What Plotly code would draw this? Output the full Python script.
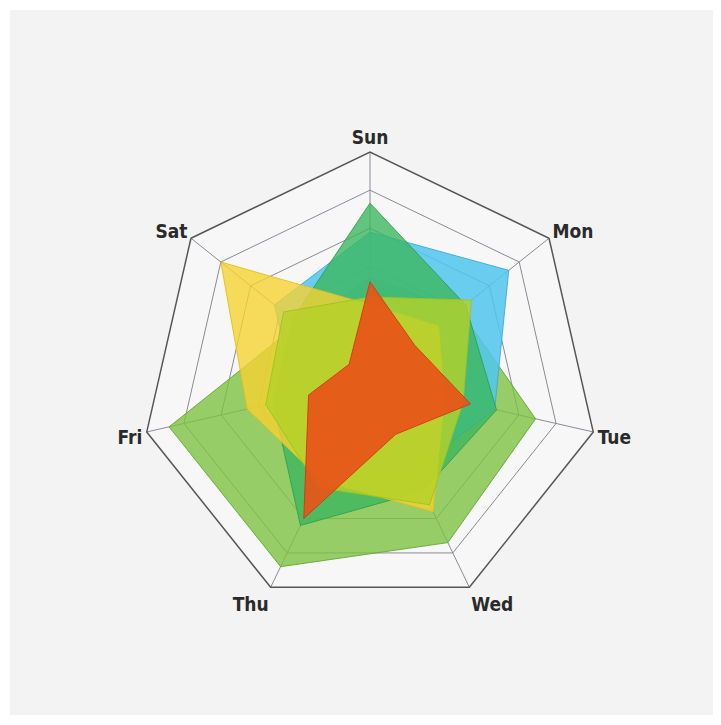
import plotly.graph_objects as go

days = ["Sun", "Mon", "Tue", "Wed", "Thu", "Fri", "Sat"]

light_green = [2.7, 3.0, 4.45, 4.7, 5.4, 5.4, 2.4]
cyan = [3.9, 4.65, 3.35, 2.6, 2.9, 2.0, 3.2]
mid_green = [4.66, 3.2, 3.4, 3.2, 4.2, 2.6, 2.6]
yellow = [2.0, 2.3, 2.0, 3.8, 2.9, 3.3, 5.0]
lime = [2.2, 3.4, 2.5, 3.6, 3.1, 2.8, 2.9]
red = [2.6, 1.5, 2.7, 1.55, 4.0, 1.65, 0.7]

series = [
    (light_green, "rgba(125,194,66,0.80)", "rgba(95,170,50,0.9)"),
    (cyan, "rgba(80,198,238,0.85)", "rgba(60,170,220,0.9)"),
    (mid_green, "rgba(60,182,95,0.80)", "rgba(50,160,80,0.9)"),
    (yellow, "rgba(245,210,50,0.80)", "rgba(230,190,30,0.9)"),
    (lime, "rgba(180,210,40,0.80)", "rgba(160,195,30,0.9)"),
    (red, "rgba(232,84,24,0.92)", "rgba(210,60,20,0.95)"),
]

fig = go.Figure()
for vals, fill, line in series:
    fig.add_trace(go.Scatterpolar(
        r=vals + [vals[0]],
        theta=days + [days[0]],
        mode="lines",
        fill="toself",
        fillcolor=fill,
        line=dict(color=line, width=1),
        hoverinfo="skip",
        showlegend=False,
    ))

W, H = 721, 725
# page body has an 8px margin, so figure coords are shifted by 8px
cx, cy, R = 362, 373, 229

fig.update_layout(
    width=W, height=H,
    margin=dict(l=0, r=0, t=0, b=0),
    paper_bgcolor="white",
    shapes=[dict(type="rect", xref="paper", yref="paper",
                 x0=2 / W, x1=707 / W, y0=1 - 707 / H, y1=1 - 2 / H,
                 fillcolor="#f3f3f3", line=dict(width=0), layer="below")],
    polar=dict(
        domain=dict(x=[(cx - R) / W, (cx + R) / W],
                    y=[(H - cy - R) / H, (H - cy + R) / H]),
        bgcolor="rgba(250,250,252,0.6)",
        gridshape="linear",
        radialaxis=dict(range=[0, 6], dtick=1, showticklabels=False, ticks="",
                        showline=False, gridcolor="#8a8a95", gridwidth=1),
        angularaxis=dict(direction="clockwise", rotation=90,
                         categoryorder="array", categoryarray=days,
                         showline=True, linecolor="#555555", linewidth=1.5,
                         gridcolor="#8a8a95", gridwidth=1, ticks="",
                         tickfont=dict(family="Liberation Sans Narrow, DejaVu Sans Condensed, sans-serif",
                                       size=19, color="#2a2a2a", weight="bold")),
    ),
)

fig.write_html("out.html")
